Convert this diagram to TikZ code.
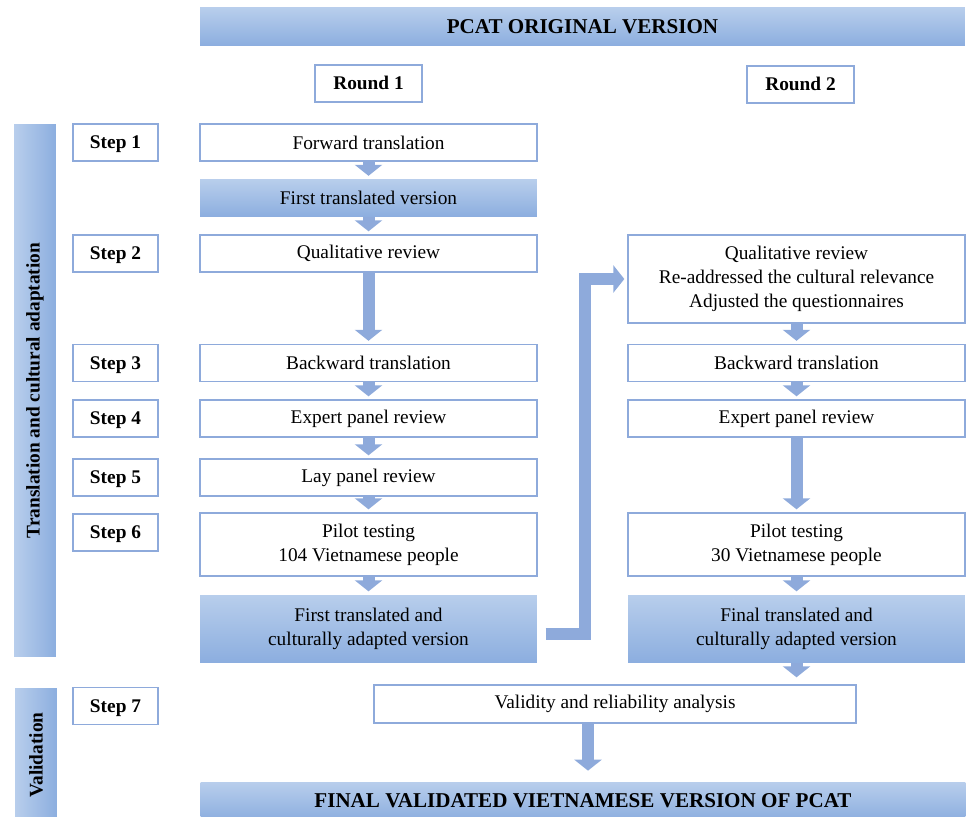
\documentclass[tikz,border=0pt]{standalone}
\usepackage{fontspec}
\setmainfont{Liberation Serif}
\usepackage{tikz}
\usetikzlibrary{arrows.meta,positioning}
\usepackage{xcolor}
\definecolor{pcblue}{RGB}{142,170,219}
\definecolor{pctop}{RGB}{184,206,236}
\definecolor{pcbot}{RGB}{140,174,223}
\tikzstyle{fatarrow} = [line width=0.24cm, draw=pcblue, -{Triangle[width=0.54cm,length=0.22cm]}, shorten >=0.06cm]
\tikzstyle{stepbox} = [rectangle, draw=pcblue, line width=0.8pt, fill=white, inner sep=0pt, minimum width=1.7cm, minimum height=0.74cm, text height=7.6pt, text depth=0.4pt, font=\fontsize{11}{13.7}\selectfont\bfseries]
\tikzstyle{procbox} = [rectangle, draw=pcblue, line width=0.8pt, fill=white, inner sep=0pt, minimum width=6.74cm, minimum height=0.74cm, align=center, font=\fontsize{11}{13.7}\selectfont]
\tikzstyle{verbox} = [procbox, draw=none, top color=pctop, bottom color=pcbot]
\tikzstyle{banner} = [rectangle, inner sep=0pt, minimum width=15.3cm, minimum height=0.76cm, top color=pctop, bottom color=pcbot, font=\fontsize{12}{14}\selectfont\bfseries]
\tikzstyle{sidebar} = [rectangle, inner sep=0pt, minimum height=0.84cm, rotate=90, left color=pctop, right color=pcbot, font=\fontsize{11}{13}\selectfont\bfseries]
\begin{document}
\begin{tikzpicture}[x=0.02cm, y=-0.02cm]
\useasboundingbox (0,0) rectangle (966,816);

% Banners
\node[banner] (orig) at (582.5,26.5) {PCAT ORIGINAL VERSION};
\node[banner] (final) at (583,801) {FINAL VALIDATED VIETNAMESE VERSION OF PCAT};

% Rounds
\node[stepbox, minimum width=2.14cm] (r1) at (368.5,83.5) {Round 1};
\node[stepbox, minimum width=2.14cm] (r2) at (800.5,84.5) {Round 2};

% Side bars
\node[sidebar, minimum width=10.66cm] (tbar) at (35,390.5) {Translation and cultural adaptation};
\node[sidebar, minimum width=2.68cm] (vbar) at (36,755) {Validation};

% Steps
\node[stepbox] (s1) at (115.5,142.5) {Step 1};
\node[stepbox] (s2) at (115.5,253.5) {Step 2};
\node[stepbox] (s3) at (115.5,363) {Step 3};
\node[stepbox] (s4) at (115.5,418.5) {Step 4};
\node[stepbox] (s5) at (115.5,477.5) {Step 5};
\node[stepbox] (s6) at (115.5,532.5) {Step 6};
\node[stepbox] (s7) at (115.5,706) {Step 7};

% Round 1
\node[procbox] (fwd) at (368.5,142.5) {Forward translation};
\node[verbox] (ver0) at (368.5,198) {First translated version};
\node[procbox] (qual1) at (368.5,253.5) {Qualitative review};
\node[procbox] (back1) at (368.5,363) {Backward translation};
\node[procbox] (exp1) at (368.5,418.5) {Expert panel review};
\node[procbox] (lay1) at (368.5,477.5) {Lay panel review};
\node[procbox, minimum height=1.26cm] (pilot1) at (368.5,544.5) {Pilot testing\\104 Vietnamese people};
\node[verbox, minimum height=1.34cm] (ver1) at (368.5,628.5) {First translated and\\culturally adapted version};

% Round 2
\node[procbox, minimum height=1.76cm] (qual2) at (796.5,279) {Qualitative review\\Re-addressed the cultural relevance\\Adjusted the questionnaires};
\node[procbox] (back2) at (796.5,363) {Backward translation};
\node[procbox] (exp2) at (796.5,418.5) {Expert panel review};
\node[procbox, minimum height=1.26cm] (pilot2) at (796.5,544.5) {Pilot testing\\30 Vietnamese people};
\node[verbox, minimum height=1.34cm] (ver2) at (796.5,628.5) {Final translated and\\culturally adapted version};

% Validation
\node[procbox, minimum width=9.64cm, minimum height=0.76cm] (valid) at (615,704) {Validity and reliability analysis};

% Connections
\draw[fatarrow] (fwd) -- (ver0);
\draw[fatarrow] (ver0) -- (qual1);
\draw[fatarrow] (qual1) -- (back1);
\draw[fatarrow] (back1) -- (exp1);
\draw[fatarrow] (exp1) -- (lay1);
\draw[fatarrow] (lay1) -- (pilot1);
\draw[fatarrow] (pilot1) -- (ver1);
\draw[fatarrow] ([xshift=0.16cm,yshift=-0.1cm]ver1.east) -- ++(39,0) |- (qual2.west);
\draw[fatarrow] (qual2) -- (back2);
\draw[fatarrow] (back2) -- (exp2);
\draw[fatarrow] (exp2) -- (pilot2);
\draw[fatarrow] (pilot2) -- (ver2);
\draw[fatarrow, shorten >=0.14cm] (ver2.south) -- (ver2.south |- valid.north);
\draw[fatarrow, shorten >=0.22cm] ([xshift=-0.54cm]valid.south) -- ([xshift=-0.54cm]valid.south |- final.north);
\end{tikzpicture}
\end{document}
